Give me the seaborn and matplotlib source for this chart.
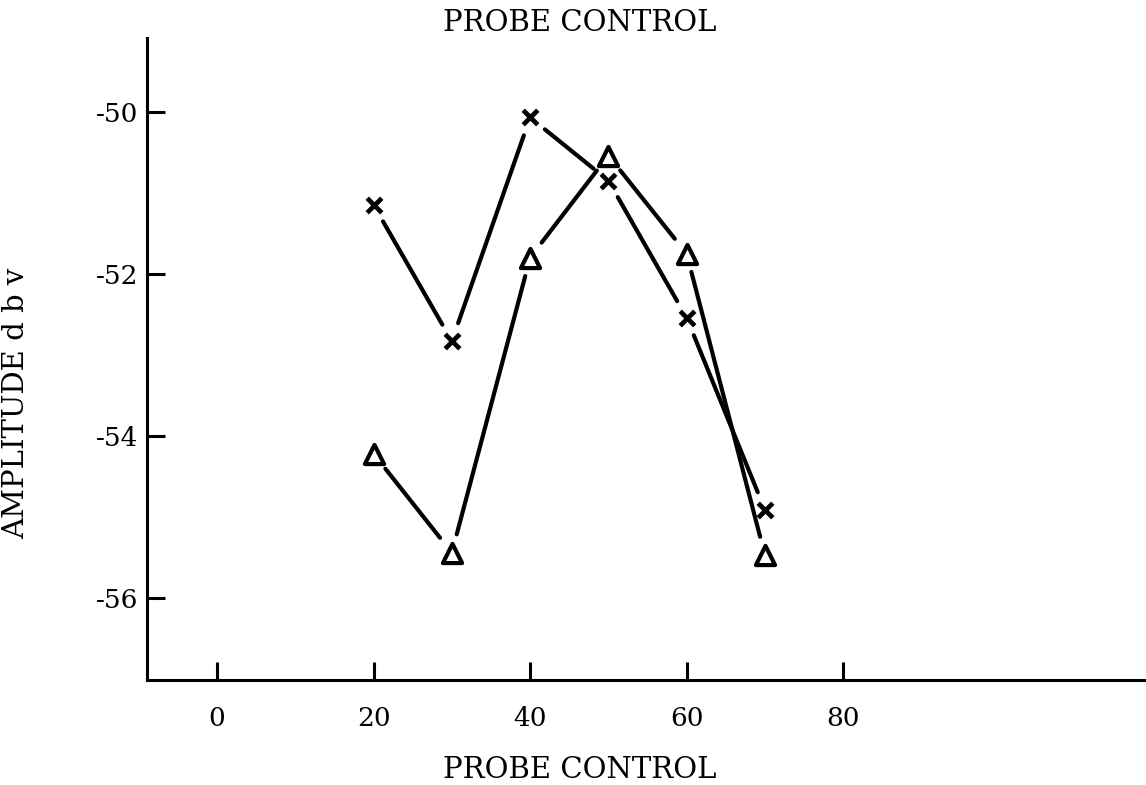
import numpy as np
import pandas as pd
import matplotlib
matplotlib.use("Agg")
import matplotlib.pyplot as plt
import seaborn as sns

# Probe control settings and measured amplitudes (dB v)
probe = [20, 30, 40, 50, 60, 70]
amp_cross = [-51.15, -52.83, -50.07, -50.85, -52.54, -54.91]
amp_triangle = [-54.22, -55.44, -51.80, -50.54, -51.75, -55.47]

x_ticks = [0, 20, 40, 60, 80]
y_ticks = [-50, -52, -54, -56]

title_text = "PROBE CONTROL"
x_label = "PROBE CONTROL"
y_label = "AMPLITUDE d b v"

sns.set_theme(style="white")
plt.rcParams["font.family"] = ["DejaVu Serif"]
plt.rcParams["text.color"] = "black"

df = pd.DataFrame({
    "probe": probe * 2,
    "amp": amp_cross + amp_triangle,
    "series": ["cross"] * len(probe) + ["triangle"] * len(probe),
})

fig = plt.figure(figsize=(11.46, 7.85), dpi=100)
ax = fig.add_axes([0.1283, 0.1338, 0.8717, 0.8178])
ax.set_xlim(-8.95, 118.7)
ax.set_ylim(-57.01, -49.09)

# Markers
sns.scatterplot(data=df[df.series == "cross"], x="probe", y="amp", ax=ax,
                marker="x", s=110, color="black", linewidth=3.4, zorder=3,
                legend=False)
sns.scatterplot(data=df[df.series == "triangle"], x="probe", y="amp", ax=ax,
                marker="^", s=190, facecolor="white", edgecolor="black",
                linewidth=3.0, zorder=3, legend=False)

# Connecting segments, trimmed short of each marker
gap = 19.0  # pixels
for name, group in df.groupby("series"):
    pts = ax.transData.transform(group[["probe", "amp"]].to_numpy())
    for p0, p1 in zip(pts[:-1], pts[1:]):
        d = p1 - p0
        u = d / np.hypot(*d)
        a = p0 + u * gap
        b = p1 - u * gap
        seg = ax.transData.inverted().transform(np.vstack([a, b]))
        ax.plot(seg[:, 0], seg[:, 1], color="black", lw=3.0,
                solid_capstyle="round", zorder=2)

ax.set_xticks(x_ticks)
ax.set_yticks(y_ticks)
ax.set_xticklabels([str(v) for v in x_ticks])
ax.set_yticklabels([str(v) for v in y_ticks])
ax.tick_params(axis="both", which="major", bottom=True, left=True,
               direction="in", length=13, width=2.2,
               colors="black", labelcolor="black", labelsize=19)
ax.tick_params(axis="x", pad=19)
ax.tick_params(axis="y", pad=6)

sns.despine(ax=ax, top=True, right=True)
for side in ("left", "bottom"):
    ax.spines[side].set_linewidth(2.2)
    ax.spines[side].set_color("black")

ax.set_xlabel("")
ax.set_ylabel("")

fig.text(16 / 1146, 1 - 403 / 785, y_label, rotation=90, ha="center",
         va="center", fontsize=21, color="black")
fig.text(580 / 1146, 1 - 23 / 785, title_text, ha="center", va="center",
         fontsize=21, color="black")
fig.text(580 / 1146, 1 - 770 / 785, x_label, ha="center", va="center",
         fontsize=21, color="black")

fig.savefig("out.png", dpi=100)
